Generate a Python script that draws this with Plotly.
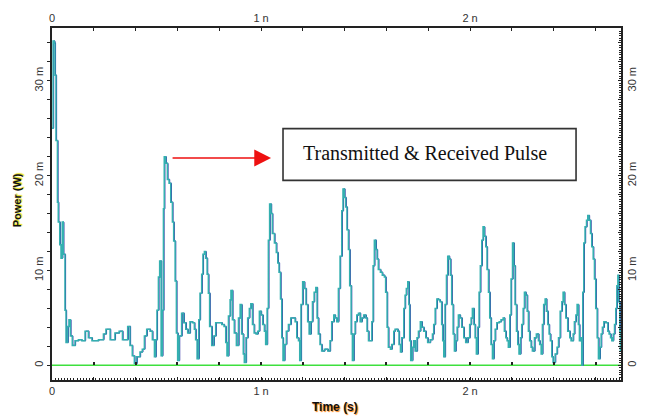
import plotly.graph_objects as go

# Time (ns) and power (mW)
time_ns = [0.000, 0.005, 0.011, 0.014, 0.019, 0.026, 0.030, 0.037, 0.043, 0.049, 0.054, 0.062, 0.067, 0.075,
           0.081, 0.088, 0.097, 0.110, 0.126, 0.142, 0.158, 0.174, 0.191, 0.222, 0.246, 0.258, 0.278, 0.301,
           0.321, 0.337, 0.362, 0.373, 0.384, 0.394, 0.405, 0.421, 0.432, 0.442, 0.453, 0.469, 0.480, 0.490,
           0.496, 0.502, 0.509, 0.515, 0.522, 0.528, 0.533, 0.537, 0.544, 0.552, 0.560, 0.568, 0.576, 0.582,
           0.589, 0.595, 0.601, 0.608, 0.620, 0.630, 0.640, 0.649, 0.660, 0.672, 0.681, 0.687, 0.694, 0.702,
           0.708, 0.716, 0.722, 0.729, 0.735, 0.742, 0.748, 0.754, 0.764, 0.774, 0.783, 0.796, 0.812, 0.823,
           0.831, 0.837, 0.844, 0.852, 0.856, 0.863, 0.872, 0.882,
           0.892, 0.900, 0.907, 0.915, 0.920, 0.928, 0.936, 0.944, 0.951, 0.959, 0.967, 0.976, 0.984, 0.992,
           1.000, 1.008, 1.016, 1.022, 1.029, 1.035, 1.041, 1.048, 1.054, 1.064, 1.073, 1.080, 1.086, 1.093,
           1.099, 1.105, 1.112, 1.121, 1.131, 1.142, 1.155, 1.163, 1.171, 1.179, 1.185, 1.191, 1.199, 1.207,
           1.215, 1.223, 1.230, 1.238, 1.246, 1.254, 1.262, 1.268, 1.274, 1.282, 1.290, 1.303, 1.319, 1.330,
           1.338, 1.348, 1.354, 1.362, 1.370, 1.378, 1.386, 1.392, 1.399, 1.405, 1.411, 1.418, 1.424, 1.431,
           1.437, 1.443, 1.450, 1.458, 1.466, 1.474, 1.482, 1.491, 1.501, 1.507, 1.514, 1.523, 1.530, 1.536,
           1.542, 1.549, 1.555, 1.561, 1.571, 1.580, 1.590, 1.596, 1.603, 1.609, 1.619, 1.625, 1.635, 1.641,
           1.654, 1.660, 1.667, 1.673, 1.683, 1.689, 1.695, 1.702, 1.707, 1.711, 1.716, 1.724, 1.730, 1.737,
           1.746, 1.753, 1.762, 1.769, 1.778, 1.788, 1.797, 1.809, 1.820,
           1.826, 1.833, 1.841, 1.849, 1.856, 1.864, 1.869, 1.874, 1.880, 1.887, 1.893, 1.900, 1.906, 1.912,
           1.919, 1.925, 1.931, 1.938, 1.944, 1.952, 1.960, 1.970, 1.979, 1.989, 1.998, 2.005, 2.011, 2.018,
           2.024, 2.030, 2.037, 2.043, 2.049, 2.056, 2.062, 2.068, 2.075, 2.081, 2.088, 2.094, 2.100, 2.107,
           2.113, 2.120, 2.128, 2.139, 2.148, 2.158, 2.164, 2.171, 2.177, 2.183, 2.190, 2.196, 2.203, 2.209,
           2.215, 2.222, 2.228, 2.234, 2.241, 2.247, 2.254, 2.260, 2.266, 2.273, 2.279, 2.285, 2.292, 2.298,
           2.308, 2.317, 2.327, 2.333, 2.340, 2.346, 2.352, 2.359, 2.365, 2.372, 2.378, 2.384, 2.391, 2.397,
           2.407, 2.416, 2.423, 2.431, 2.439, 2.445, 2.451, 2.458, 2.467, 2.477, 2.483, 2.493, 2.499, 2.506,
           2.512, 2.518, 2.523, 2.528, 2.534, 2.539, 2.544, 2.550, 2.557, 2.563, 2.569, 2.576, 2.582, 2.589,
           2.595, 2.601, 2.608, 2.614, 2.621, 2.627, 2.633, 2.640, 2.649, 2.659, 2.665, 2.672, 2.678, 2.685,
           2.691, 2.697, 2.702, 2.707, 2.711, 2.716, 2.719]

power_mw = [25.0, 34.2, 34.0, 30.6, 23.7, 17.2, 15.1, 12.7, 11.3, 15.1, 11.7, 5.8, 2.4, 4.1,
            4.8, 3.1, 2.1, 2.6, 2.7, 2.6, 3.6, 2.9, 2.6, 2.7, 3.3, 3.8, 2.7, 3.4,
            3.6, 2.7, 4.1, 2.1, 1.0, 0.2, 0.9, 1.4, 1.7, 3.1, 3.8, 3.6, 2.7, 0.9,
            2.7, 5.8, 9.3, 11.0, 1.0, 5.8, 16.5, 22.0, 21.3, 19.6, 19.2, 17.2, 15.1, 13.1,
            8.9, 3.4, 0.5, 3.1, 5.5, 4.5, 3.8, 3.4, 4.6, 4.5, 3.8, 2.7, 0.7, 4.8,
            7.6, 9.6, 11.7, 12.0, 11.3, 9.6, 7.6, 4.1, 2.1, 3.1, 4.5, 4.5, 4.3, 4.1,
            2.4, 1.0, 5.2, 6.9, 7.9, 4.8, 3.4, 2.1,
            5.0, 6.4, 3.3, 1.2, 0.3, 2.9, 5.0, 6.0, 6.5, 4.3, 3.4, 3.3, 3.6, 5.7,
            5.3, 4.3, 3.6, 2.2, 6.0, 13.2, 17.0, 16.0, 13.9, 12.9, 11.9, 10.8, 9.8, 7.0,
            2.9, 0.5, 2.2, 3.6, 4.3, 5.0, 5.0, 4.6, 2.9, 2.6, 0.5, 6.4, 8.8, 8.1,
            6.4, 4.6, 3.3, 4.6, 6.7, 7.7, 8.2, 5.0, 3.3, 2.2, 1.5, 1.7, 1.5, 2.6,
            4.6, 5.3, 5.0, 4.6, 8.1, 11.5, 16.3, 18.6, 17.7, 16.7, 14.3, 12.2, 8.4, 3.3,
            0.5, 3.3, 4.6, 5.3, 5.5, 4.6, 5.0, 5.3, 5.0, 3.6, 2.6, 2.6, 4.6, 10.5,
            13.2, 12.2, 11.2, 10.1, 9.8, 9.5, 9.3, 7.7, 4.0, 1.9, 1.7, 2.2, 3.6, 3.8,
            3.6, 2.2, 1.4, 2.9, 6.0, 7.4, 8.1, 8.8, 6.4, 2.6, 0.5, 1.9, 2.6, 1.5,
            2.9, 3.6, 4.6, 4.0, 3.6, 2.9, 2.4, 2.7, 3.3,
            4.3, 6.0, 7.0, 6.9, 6.7, 4.3, 2.6, 0.9, 6.4, 9.5, 11.5, 11.2, 9.5, 6.4,
            3.3, 1.5, 2.6, 4.0, 5.3, 5.0, 4.0, 2.9, 2.4, 2.9, 4.3, 5.0, 6.0, 4.3,
            2.9, 1.2, 4.0, 7.7, 10.5, 13.2, 14.6, 13.6, 12.5, 10.1, 7.7, 5.0, 2.2, 0.7,
            2.6, 3.8, 4.5, 4.6, 4.8, 5.0, 3.6, 2.9, 2.6, 1.9, 5.3, 9.1, 12.9, 10.5,
            6.4, 3.6, 2.2, 1.2, 2.9, 4.3, 6.0, 7.7, 7.4, 5.7, 3.6, 2.6, 1.9, 1.5,
            2.9, 3.3, 2.6, 2.2, 1.2, 4.3, 6.4, 7.0, 5.7, 4.3, 3.3, 2.6, 0.9, 0.3,
            1.2, 1.9, 2.9, 5.7, 6.7, 7.7, 6.4, 5.0, 3.6, 2.9, 2.6, 3.3, 4.6, 5.3,
            6.4, 4.3, 2.6, 2.9, 0.0, 7.7, 12.9, 14.6, 15.3, 15.8, 15.3, 13.9, 12.5, 11.2,
            9.1, 6.0, 2.9, 0.7, 1.9, 3.3, 4.0, 4.6, 4.5, 3.6, 3.3, 2.9, 2.6, 3.3,
            4.3, 6.0, 8.4, 9.5, 6.7, 3.6, 1.5]

x_tickvals = [0, 0.2, 0.4, 0.6, 0.8, 1.0, 1.2, 1.4, 1.6, 1.8, 2.0, 2.2, 2.4, 2.6]
x_ticktext = ["0", "", "", "", "", "1 n", "", "", "", "", "2 n", "", "", ""]
y_tickvals = [0, 2, 4, 6, 8, 10, 12, 14, 16, 18, 20, 22, 24, 26, 28, 30, 32, 34]
y_ticktext = ["0", "", "", "", "", "10 m", "", "", "", "", "20 m", "", "", "", "", "30 m", "", ""]

XR = [0, 2.722]
YR = [-1.55, 35.57]
TEAL = "#34b0b0"
NAVY = "#1c1c9c"
AX = "#222222"
tickfont = dict(family="Liberation Sans, Arial, sans-serif", size=11, color="#333333")

fig = go.Figure()
shift = 0.003
fig.add_trace(go.Scatter(x=[t + shift for t in time_ns], y=power_mw, mode="lines",
                         line=dict(color=NAVY, width=1.0, shape="hv"),
                         hoverinfo="skip", showlegend=False))
fig.add_trace(go.Scatter(x=time_ns, y=power_mw, mode="lines",
                         line=dict(color=TEAL, width=1.5, shape="hv"),
                         showlegend=False))
# helper traces so the extra axes are drawn
dummy = dict(mode="markers", marker=dict(opacity=0), hoverinfo="skip", showlegend=False)
fig.add_trace(go.Scatter(x=[time_ns[0]], y=[power_mw[0]], xaxis="x2", yaxis="y", **dummy))
fig.add_trace(go.Scatter(x=[time_ns[0]], y=[power_mw[0]], xaxis="x", yaxis="y2", **dummy))
fig.add_trace(go.Scatter(x=[time_ns[0]], y=[power_mw[0]], xaxis="x3", yaxis="y", **dummy))

fig.update_layout(
    width=657, height=418, autosize=False,
    margin=dict(l=52, r=36, t=20, b=38),
    paper_bgcolor="white", plot_bgcolor="white",
    xaxis=dict(range=XR, tickvals=x_tickvals, ticktext=x_ticktext, ticks="inside", ticklen=3,
               tickcolor=AX, tickwidth=1.2, showline=True, linecolor=AX, linewidth=1.5,
               showgrid=False, zeroline=False, tickfont=tickfont,
               minor=dict(dtick=0.015, ticks="inside", ticklen=2, tickcolor=AX, tickwidth=1)),
    xaxis2=dict(range=XR, overlaying="x", side="top", anchor="y", tickvals=x_tickvals,
                ticktext=x_ticktext, ticks="inside", ticklen=3, tickcolor=AX, tickwidth=1.2,
                showline=True, linecolor=AX, linewidth=1.5, showgrid=False, zeroline=False,
                tickfont=tickfont),
    xaxis3=dict(range=XR, overlaying="x", anchor="free",
                position=(0 - YR[0]) / (YR[1] - YR[0]), tickvals=x_tickvals,
                showticklabels=False, ticks="inside", ticklen=3, tickcolor=AX, tickwidth=1.5,
                showline=False, showgrid=False, zeroline=False),
    yaxis=dict(range=YR, tickvals=y_tickvals, ticktext=y_ticktext, ticks="outside", ticklen=3,
               tickcolor=AX, tickwidth=1.2, tickangle=-90, showline=True, linecolor=AX,
               linewidth=1.5, showgrid=False, zeroline=False, tickfont=tickfont),
    yaxis2=dict(range=YR, overlaying="y", side="right", anchor="x", tickvals=y_tickvals,
                ticktext=y_ticktext, ticks="inside", ticklen=3, tickcolor=AX, tickwidth=1.2,
                tickangle=-90, showline=True, linecolor=AX, linewidth=1.5, showgrid=False,
                zeroline=False, tickfont=tickfont,
                minor=dict(dtick=0.25, ticks="inside", ticklen=2, tickcolor=AX, tickwidth=1)),
    shapes=[
        dict(type="line", xref="paper", yref="y", x0=0, x1=1, y0=0, y1=0,
             line=dict(color="#3ee03e", width=1.5), layer="below"),
        dict(type="rect", xref="paper", yref="paper", x0=0.406, x1=0.921, y0=0.567, y1=0.714,
             line=dict(color="#333333", width=1.6), fillcolor="white", layer="above"),
    ],
    annotations=[
        dict(text="Transmitted &amp; Received Pulse", xref="paper", yref="paper", x=0.655, y=0.644,
             showarrow=False, font=dict(family="Liberation Serif, Times New Roman, serif",
                                        size=20, color="#111111")),
        dict(x=1.048, y=21.86, xref="x", yref="y", ax=-100, ay=0, text="", showarrow=True,
             arrowhead=2, arrowsize=2.4, arrowwidth=1.4, arrowcolor="#ee1111"),
        dict(text="<b>Time (s)</b>", xref="paper", yref="paper", x=0.497, y=-0.078,
             showarrow=False, yanchor="middle",
             font=dict(family="Liberation Sans, Arial, sans-serif", size=12, color="#111111",
                       shadow="1px 1px 1px #ff7a00")),
        dict(text="<b>Power (W)</b>", xref="paper", yref="paper", x=-0.06, y=0.51,
             showarrow=False, textangle=-90, xanchor="center",
             font=dict(family="Liberation Sans, Arial, sans-serif", size=11, color="#111111",
                       shadow="1px 1px 1px #e8d800")),
    ],
)

fig.write_html("out.html")
